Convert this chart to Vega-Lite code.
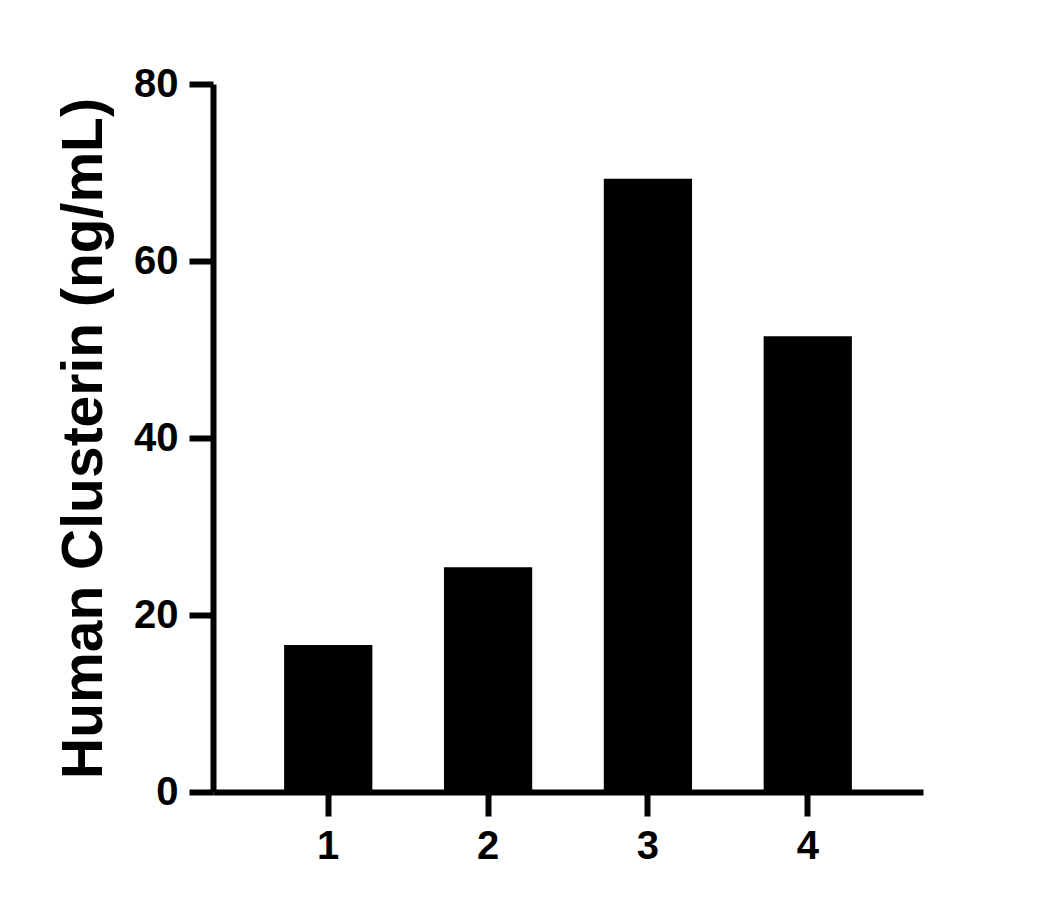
{
  "$schema": "https://vega.github.io/schema/vega-lite/v6.json",
  "autosize": "none",
  "width": 710,
  "height": 708,
  "padding": {"left": 213, "top": 84, "right": 137, "bottom": 117},
  "background": "white",
  "data": {"values": [
    {"group": "1", "value": 16.6},
    {"group": "2", "value": 25.4},
    {"group": "3", "value": 69.3},
    {"group": "4", "value": 51.5}
  ]},
  "mark": {"type": "bar", "color": "black"},
  "encoding": {
    "x": {
      "field": "group", "type": "ordinal",
      "scale": {"paddingInner": 0.448, "paddingOuter": 0.445},
      "axis": {"title": null, "labelAngle": 0, "labelFont": "Liberation Sans", "labelFontWeight": "bold", "labelFontSize": 40, "labelColor": "black", "labelPadding": 10, "tickSize": 24, "tickWidth": 6, "tickColor": "black", "domainColor": "black", "domainWidth": 6, "grid": false}
    },
    "y": {
      "field": "value", "type": "quantitative",
      "scale": {"domain": [0, 80], "nice": false},
      "axis": {"title": "Human Clusterin (ng/mL)", "values": [0, 20, 40, 60, 80], "titleFont": "Liberation Sans", "titleFontWeight": "bold", "titleFontSize": 57, "titleColor": "black", "titlePadding": 20, "labelFont": "Liberation Sans", "labelFontWeight": "bold", "labelFontSize": 40, "labelColor": "black", "labelPadding": 11, "tickSize": 24, "tickWidth": 6, "tickColor": "black", "domainColor": "black", "domainWidth": 6, "grid": false}
    }
  },
  "config": {"view": {"stroke": null}}
}
